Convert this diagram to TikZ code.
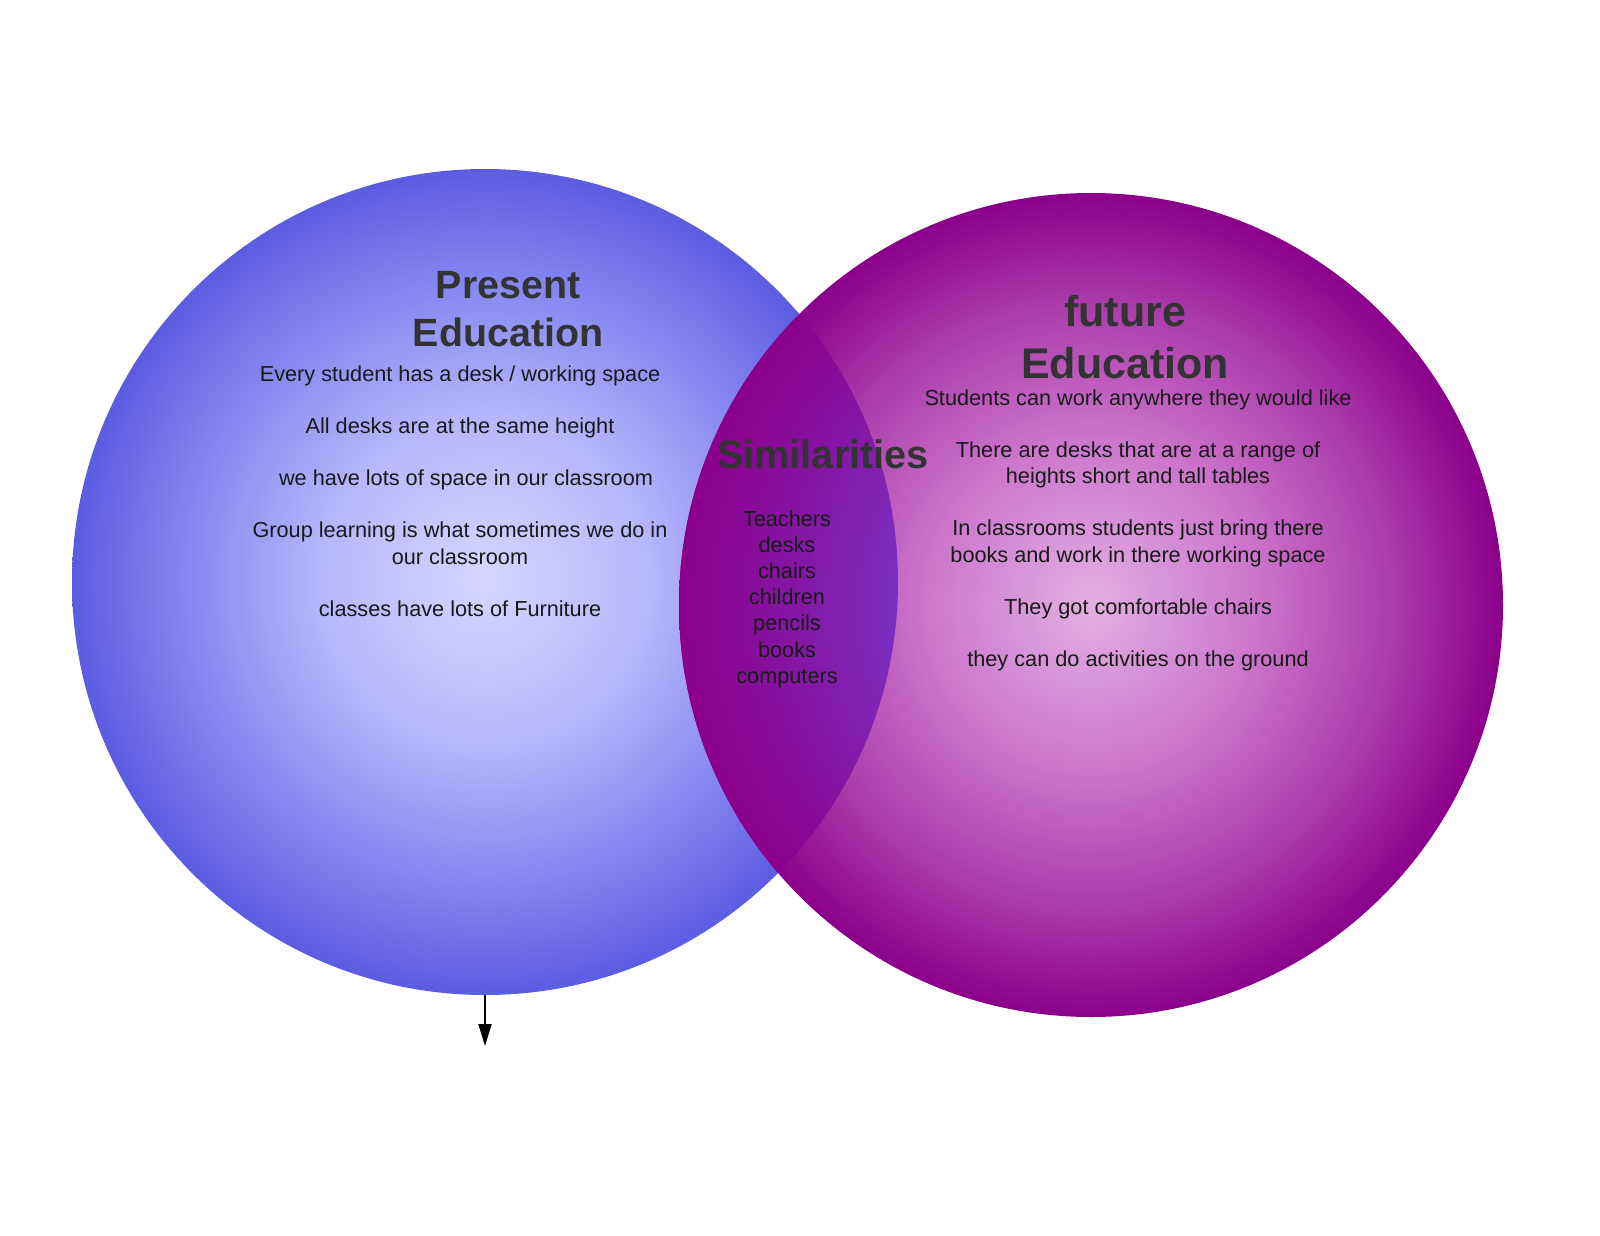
\documentclass[tikz,border=0pt]{standalone}
\usepackage{fontspec}
\setmainfont{Liberation Sans}
\usetikzlibrary{arrows.meta}
\definecolor{presentin}{RGB}{214,214,255}
\definecolor{presentmid}{RGB}{182,182,251}
\definecolor{presentrim}{RGB}{132,132,240}
\definecolor{presentout}{RGB}{92,92,226}
\definecolor{futurein}{RGB}{226,176,226}
\definecolor{futuremid}{RGB}{204,118,204}
\definecolor{futurerim}{RGB}{170,58,170}
\definecolor{futureout}{RGB}{139,0,139}
\definecolor{lensin}{RGB}{122,48,194}
\definecolor{lensmid}{RGB}{132,24,166}
\definecolor{titlegray}{RGB}{51,51,51}
% the rim of a shaded circle sits at 25bp
\pgfdeclareradialshading{presentball}{\pgfpoint{0bp}{0bp}}{color(0bp)=(presentin); color(10bp)=(presentmid); color(18.5bp)=(presentrim); color(25bp)=(presentout); color(50bp)=(presentout)}
\pgfdeclareradialshading{futureball}{\pgfpoint{0bp}{0bp}}{color(0bp)=(futurein); color(10bp)=(futuremid); color(18.5bp)=(futurerim); color(25bp)=(futureout); color(50bp)=(futureout)}
\pgfdeclareradialshading{lensball}{\pgfpoint{0bp}{0bp}}{color(0bp)=(lensin); color(11.5bp)=(lensin); color(17.5bp)=(lensmid); color(25bp)=(futureout); color(50bp)=(futureout)}
\pgfkeys{tikz/mycircle/.style={circle,inner sep=0pt,minimum size=413pt}}
\pgfkeys{tikz/mytitle/.style={align=center,text=titlegray,font=\fontsize{19.7}{24}\selectfont\bfseries}}
\pgfkeys{tikz/mytext/.style={align=center,text=black!90,font=\fontsize{10.85}{13.25}\selectfont}}
\newcommand*\mygap{\\[12.75pt]}
\begin{document}
\begin{tikzpicture}[x=0.5pt,y=-0.5pt]
\useasboundingbox (0,0) rectangle (1600,1236);

% circles
\node [mycircle,shading=presentball] (present) at (485,582) {};
\node [mycircle,minimum size=412pt,shading=futureball] (future) at (1091,605) {};

% overlap
\begin{scope}
  \clip (present.center) circle [radius=206.5pt];
  \shade [shading=lensball] (future.center) circle [radius=206pt];
\end{scope}

% titles
\node [mytitle] (presenttitle) at (508,309) {Present\\Education};
\node [mytitle,font=\fontsize{21.5}{26}\selectfont\bfseries] (futuretitle) at (1125,337) {future\\Education};
\node [mytitle,font=\fontsize{19.85}{24}\selectfont\bfseries] (simtitle) at (823,454) {Similarities};

% lists
\node [mytext] (presentlist) at (460,491) {Every student has a desk / working space\mygap
All desks are at the same height\mygap
\ \ we have lots of space in our classroom\mygap
Group learning is what sometimes we do in\\our classroom\mygap
classes have lots of Furniture};
\node [mytext] (futurelist) at (1138,530) {Students can work anywhere they would like\mygap
There are desks that are at a range of\\heights short and tall tables\mygap
In classrooms students just bring there\\books and work in there working space\mygap
They got comfortable chairs\mygap
they can do activities on the ground};
\node [mytext,font=\fontsize{10.85}{13.1}\selectfont] (simlist) at (787,599) {Teachers\\desks\\chairs\\children\\pencils\\books\\computers};

\coordinate (arrowend) at (485,1046);
\draw [line width=1pt,-{Triangle[length=11pt,width=6.5pt]}] (present.south) -- (arrowend);
\end{tikzpicture}
\end{document}
